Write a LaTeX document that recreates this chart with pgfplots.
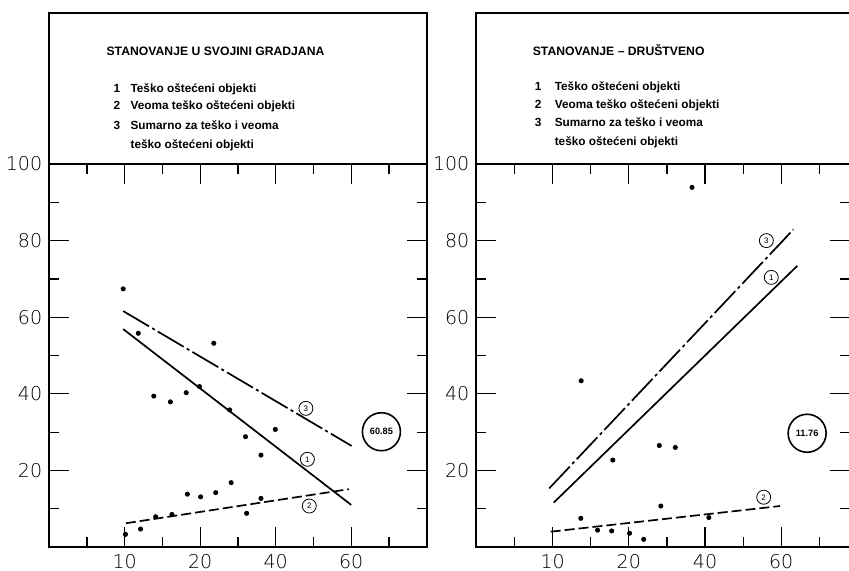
\documentclass[border=0pt]{standalone}
\usepackage{pgfplots}
\pgfplotsset{compat=1.18}
\usepackage{fontspec}
\setmainfont{Liberation Sans}
\newfontfamily\tickfont{DejaVu Sans ExtraLight}
\pgfplotsset{
  panel/.style={
    scale only axis, height=191.5pt,
    xmin=0, ymin=0, ymax=100,
    axis line style={line width=1pt},
    xtick={2,4,6,8}, xticklabels={10,20,40,60},
    minor xtick={1,3,5,7,9},
    ytick={20,40,60,80,100}, minor ytick={10,30,50,70,90},
    major tick length=10pt, minor tick length=5pt,
    every tick/.style={black, line width=0.6pt},
    tick align=inside,
    ticklabel style={font=\tickfont\fontsize{9.5}{10}\selectfont},
    /pgf/number format/assume math mode=true,
    clip=false,
  },
}
\tikzset{
  pts/.style={only marks, mark=*, mark size=1.05pt, black},
  l1/.style={black, line width=0.85pt},
  l2/.style={black, line width=0.85pt, dash pattern=on 5pt off 2pt},
  l3/.style={black, line width=0.85pt, dash pattern=on 15pt off 1.8pt on 1.5pt off 1.8pt},
  cl/.style={circle, draw, line width=0.4pt, inner sep=0pt, minimum size=7pt, font=\fontsize{4}{4}\selectfont},
  bigc/.style={circle, draw, line width=0.8pt, inner sep=0pt, minimum size=19pt, font=\bfseries\fontsize{4.6}{5}\selectfont},
  hd/.style={anchor=base west, inner sep=0pt, font=\bfseries\fontsize{6.1}{7}\selectfont},
  lg/.style={anchor=base west, inner sep=0pt, font=\bfseries\fontsize{5.9}{7}\selectfont},
}
\begin{document}
\begin{tikzpicture}
% ---------- left panel ----------
\begin{axis}[panel, name=L, width=188.75pt, xmax=10]
\addplot[pts] table {
x y
1.96 67.4
2.36 55.8
4.36 53.2
2.77 39.4
3.21 37.9
3.63 40.3
3.98 41.9
4.78 35.8
5.20 28.8
5.99 30.7
5.61 24.0
4.82 16.8
3.66 13.8
4.01 13.1
4.41 14.2
5.61 12.7
5.23 8.8
2.82 7.9
3.25 8.5
2.42 4.7
2.02 3.3
};
\addplot[l3] coordinates {(1.96,61.6) (8.01,26.4)};
\addplot[l1] coordinates {(1.96,56.9) (8.00,11.0)};
\addplot[l2] coordinates {(2.03,6.2) (7.94,15.1)};
\node[cl] at (axis cs:6.80,36.2) {3};
\node[cl] at (axis cs:6.84,22.9) {1};
\node[cl] at (axis cs:6.89,10.7) {2};
\node[bigc] at (axis cs:8.80,30.1) {60.85};
\end{axis}
\draw[line width=1pt] (L.north west) -- ++(0,75.5pt) -| (L.north east);
\node[hd] at ([xshift=28.5pt,yshift=54.5pt]L.north west) {STANOVANJE U SVOJINI GRADJANA};
\node[lg] at ([xshift=32pt,yshift=36pt]L.north west) {1};
\node[lg] at ([xshift=40.5pt,yshift=36pt]L.north west) {Teško oštećeni objekti};
\node[lg] at ([xshift=32pt,yshift=27.25pt]L.north west) {2};
\node[lg] at ([xshift=40.5pt,yshift=27.25pt]L.north west) {Veoma teško oštećeni objekti};
\node[lg] at ([xshift=32pt,yshift=17.5pt]L.north west) {3};
\node[lg] at ([xshift=40.5pt,yshift=17.5pt]L.north west) {Sumarno za teško i veoma};
\node[lg] at ([xshift=40.5pt,yshift=7.75pt]L.north west) {teško oštećeni objekti};
% ---------- right panel ----------
\begin{axis}[panel, name=R, at={(213.6pt,0pt)}, width=186.7pt, xmax=9.8]
\addplot[pts] table {
x y
5.66 93.9
2.75 43.4
3.58 22.7
4.80 26.5
5.22 26.0
4.84 10.7
2.74 7.5
6.10 7.7
3.18 4.4
3.55 4.2
4.02 3.6
4.39 2.0
};
\addplot[l3] coordinates {(1.91,15.3) (8.32,82.9)};
\addplot[l1] coordinates {(2.03,11.6) (8.42,73.4)};
\addplot[l2] coordinates {(1.95,4.0) (7.97,10.7)};
\node[cl] at (axis cs:7.61,80.0) {3};
\node[cl] at (axis cs:7.74,70.4) {1};
\node[cl] at (axis cs:7.54,13.0) {2};
\node[bigc] at (axis cs:8.68,29.7) {11.76};
\end{axis}
\draw[line width=1pt] (R.north west) -- ++(0,75.5pt) -| (R.north east);
\node[hd] at ([xshift=28pt,yshift=54.5pt]R.north west) {STANOVANJE – DRUŠTVENO};
\node[lg] at ([xshift=29pt,yshift=37pt]R.north west) {1};
\node[lg] at ([xshift=39pt,yshift=37pt]R.north west) {Teško oštećeni objekti};
\node[lg] at ([xshift=29pt,yshift=27.75pt]R.north west) {2};
\node[lg] at ([xshift=39pt,yshift=27.75pt]R.north west) {Veoma teško oštećeni objekti};
\node[lg] at ([xshift=29pt,yshift=18.75pt]R.north west) {3};
\node[lg] at ([xshift=39pt,yshift=18.75pt]R.north west) {Sumarno za teško i veoma};
\node[lg] at ([xshift=39pt,yshift=9.5pt]R.north west) {teško oštećeni objekti};
\pgfresetboundingbox
\path (-24.6pt,-11.5pt) rectangle (399.9pt,273.5pt);
\end{tikzpicture}
\end{document}
